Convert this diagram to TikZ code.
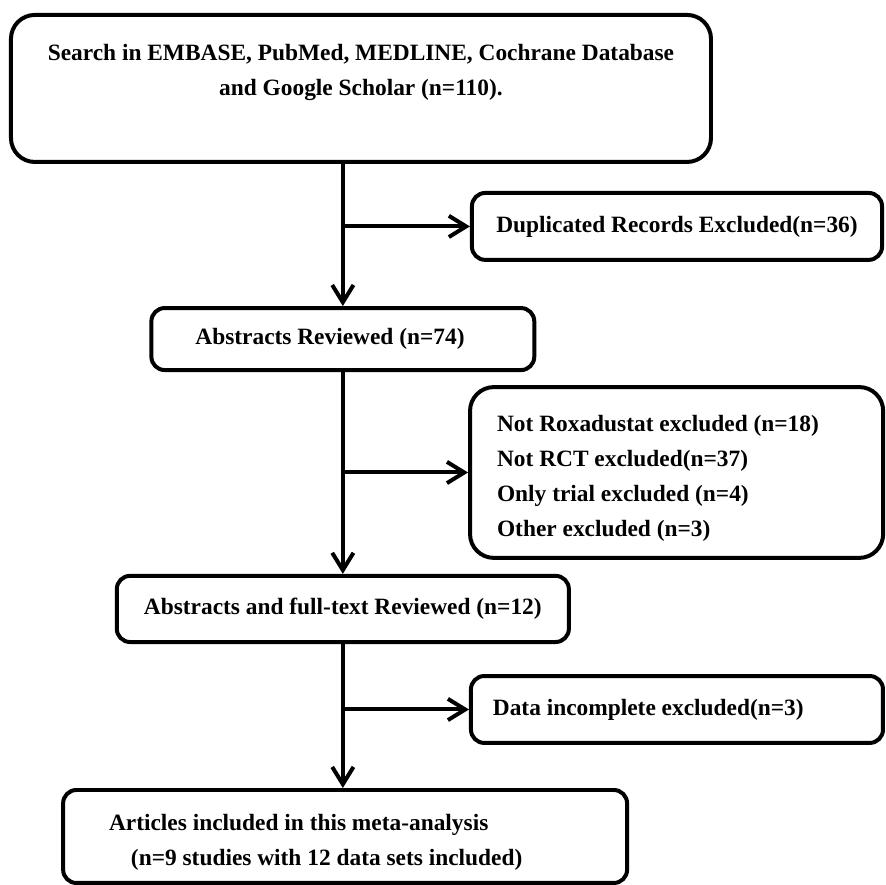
\documentclass[tikz,border=0pt]{standalone}
\usepackage{fontspec}
\setmainfont{Liberation Serif}
\usetikzlibrary{arrows.meta}

\tikzset{
  flowbox/.style={draw, line width=3pt, rounded corners=10pt, font=\bfseries\fontsize{17.6}{26.25}\selectfont},
  bigbox/.style={flowbox, rounded corners=18pt},
}

\begin{document}
\begin{tikzpicture}[>={Straight Barb[length=13pt,width=16pt]}, line width=3pt]
      \useasboundingbox (0,0) rectangle (23.44,-23.39);

      \node[bigbox, minimum width=18.52cm, minimum height=3.89cm, align=center] (search) at (9.55,-2.34) {\rule{0pt}{18pt}Search in EMBASE, PubMed, MEDLINE, Cochrane Database\\and Google Scholar (n=110).\\\strut};
      \node[flowbox, minimum width=10.85cm, minimum height=1.77cm] (duplicates) at (17.91,-5.99) {Duplicated Records Excluded(n=36)};
      \node[flowbox, minimum width=10.13cm, minimum height=1.64cm, text width=7.8cm, align=flush left] (abstracts) at (9.07,-8.97) {Abstracts Reviewed (n=74)};
      \node[bigbox, minimum width=10.93cm, minimum height=4.52cm, text width=9.5cm, align=flush left] (excluded) at (17.90,-12.50) {\rule{0pt}{21pt}Not Roxadustat excluded (n=18)\\Not RCT excluded(n=37)\\Only trial excluded (n=4)\\Other excluded (n=3)};
      \node[flowbox, minimum width=11.96cm, minimum height=1.75cm] (fulltext) at (9.07,-16.11) {Abstracts and full-text Reviewed (n=12)};
      \node[flowbox, minimum width=10.90cm, minimum height=1.77cm, text width=9.74cm, align=flush left] (incomplete) at (17.91,-18.77) {Data incomplete excluded(n=3)};
      \node[flowbox, minimum width=14.92cm, minimum height=2.46cm, text width=12.49cm, align=flush left] (included) at (9.13,-22.13) {\rule{0pt}{21pt}Articles included in this meta-analysis\\\hspace*{0.58cm}(n=9 studies with 12 data sets included)};

      \draw[->] (abstracts |- search.south) to (abstracts);
      \draw[->] (abstracts |- duplicates) to (duplicates);
      \draw[->] (abstracts) to (fulltext);
      \draw[->] (fulltext |- excluded) to (excluded);
      \draw[->] (fulltext) to (fulltext |- included.north);
      \draw[->] (fulltext |- incomplete) to (incomplete);
    \end{tikzpicture}
\end{document}
